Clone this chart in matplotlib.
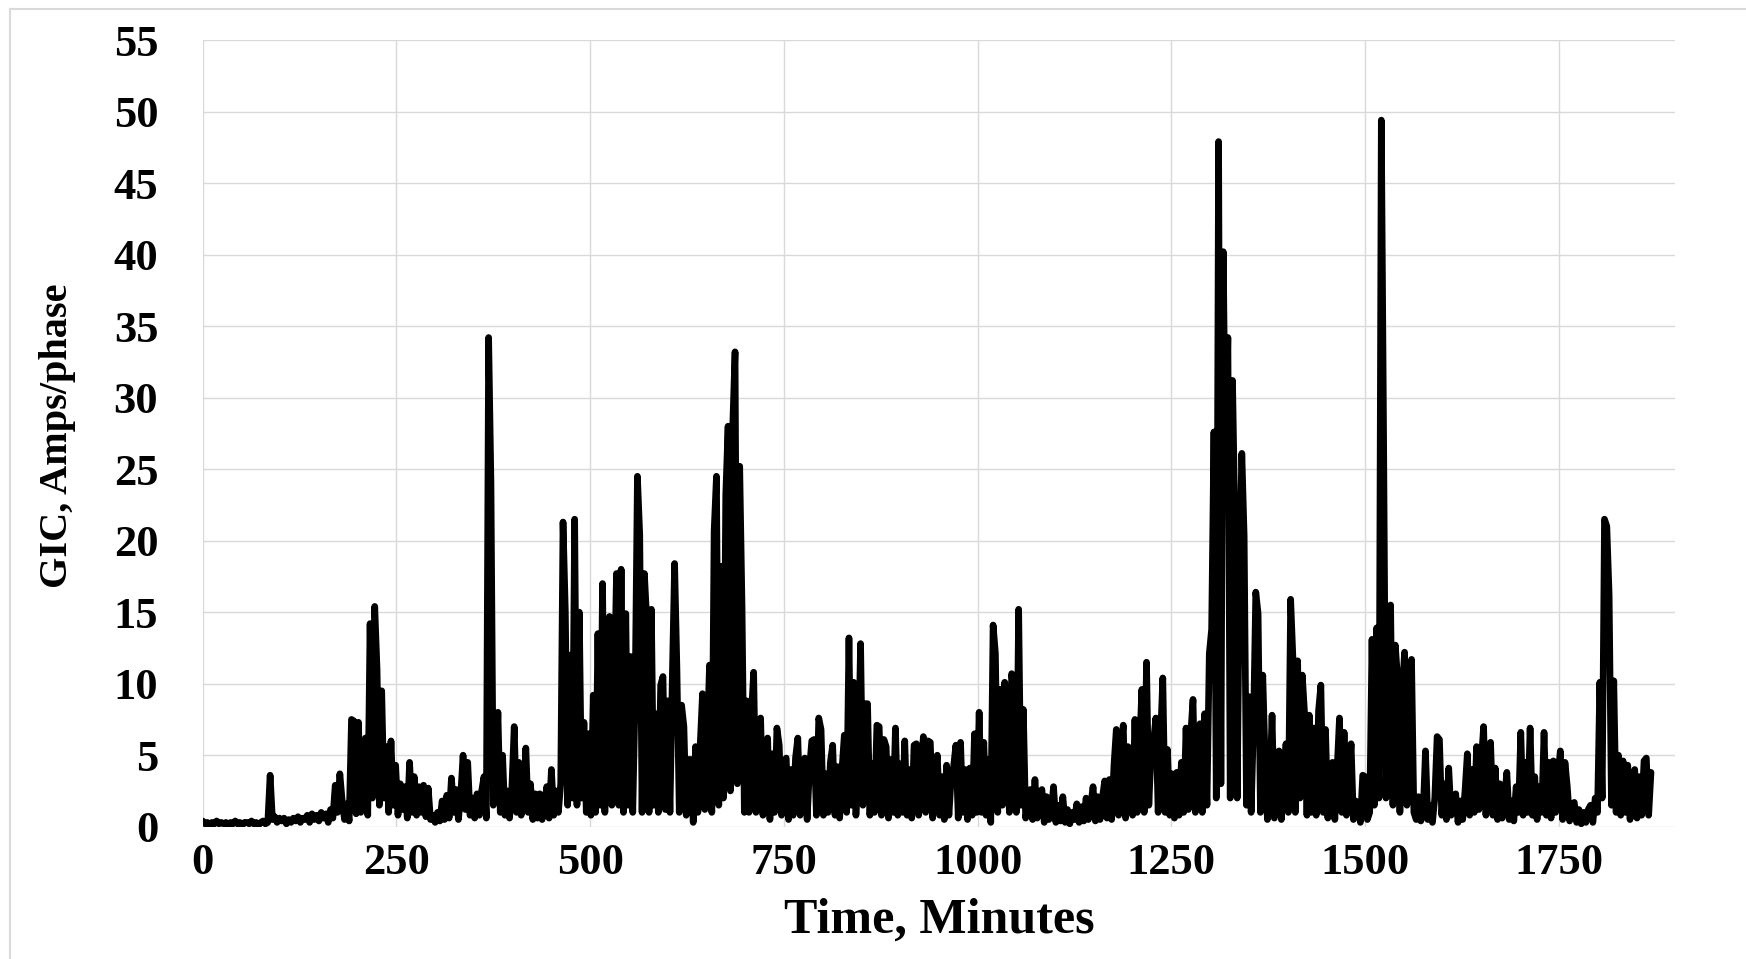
import numpy as np
import matplotlib
matplotlib.use("Agg")
import matplotlib.pyplot as plt
from matplotlib.lines import Line2D

minute_step = 3
gic_amps = [
    0.4, 0.2, 0.3, 0.1, 0.3, 0.2, 0.4, 0.2, 0.3, 0.2,        # 0
    0.3, 0.1, 0.3, 0.2, 0.4, 0.2, 0.3, 0.1, 0.3, 0.3,        # 30
    0.2, 0.4, 0.2, 0.3, 0.1, 0.3, 0.4, 0.2, 0.3, 3.6,        # 60
    0.5, 0.7, 0.3, 0.6, 0.4, 0.6, 0.2, 0.5, 0.3, 0.6,        # 90
    0.4, 0.7, 0.3, 0.6, 0.5, 0.8, 0.3, 0.9, 0.5, 0.8,        # 120
    0.4, 1.0, 0.6, 0.9, 0.3, 1.2, 0.6, 2.9, 1.0, 3.7,        # 150
    1.8, 0.5, 1.6, 0.4, 7.5, 7.4, 0.9, 7.3, 1.0, 3.5,        # 180
    6.2, 0.8, 14.2, 2.0, 15.4, 11.0, 1.5, 9.5, 2.0, 5.6,     # 210
    1.0, 6.0, 1.5, 4.3, 0.8, 3.0, 1.2, 2.8, 0.6, 4.5,        # 240
    1.0, 3.5, 0.8, 2.8, 1.0, 2.9, 0.7, 2.7, 0.5, 0.8,        # 270
    0.3, 1.0, 0.4, 1.8, 0.5, 2.2, 0.6, 3.4, 1.0, 2.6,        # 300
    0.5, 2.2, 5.0, 1.2, 4.5, 0.8, 2.0, 0.6, 2.3, 0.8,        # 330
    2.5, 3.5, 0.6, 34.2, 24.0, 1.5, 3.0, 8.0, 1.0, 5.0,      # 360
    0.8, 2.5, 0.6, 2.8, 7.0, 1.0, 4.5, 0.8, 2.0, 5.5,        # 390
    1.0, 3.0, 0.5, 2.3, 0.6, 2.3, 0.5, 1.5, 2.8, 0.6,        # 420
    4.0, 0.8, 2.5, 1.0, 3.0, 21.3, 15.0, 1.5, 12.0, 2.0,     # 450
    21.5, 1.5, 15.0, 2.0, 7.3, 1.0, 6.5, 0.8, 9.2, 1.0,      # 480
    13.5, 1.5, 17.0, 1.0, 10.3, 14.7, 1.5, 9.0, 17.7, 1.5,   # 510
    18.0, 1.0, 14.9, 1.5, 11.9, 1.0, 9.0, 24.5, 20.4, 1.0,   # 540
    17.7, 14.5, 1.0, 15.2, 1.5, 7.9, 1.0, 9.9, 10.5, 1.2,    # 570
    8.8, 1.0, 10.3, 18.4, 11.0, 1.0, 8.5, 7.0, 0.8, 4.7,     # 600
    4.7, 0.3, 5.6, 1.0, 5.7, 9.3, 1.2, 5.6, 11.3, 1.0,       # 630
    20.7, 24.5, 1.5, 18.2, 2.0, 23.2, 28.0, 2.5, 28.0, 33.2, # 660
    3.0, 25.2, 15.4, 1.0, 8.8, 1.0, 7.7, 10.8, 1.0, 6.5,     # 690
    7.6, 0.8, 5.3, 6.2, 0.5, 5.1, 1.0, 6.9, 5.7, 0.8,        # 720
    4.5, 4.8, 0.5, 4.0, 0.8, 4.8, 6.2, 0.8, 4.2, 4.8,        # 750
    0.5, 4.0, 6.0, 6.1, 0.8, 7.6, 6.8, 0.8, 3.7, 1.0,        # 780
    4.5, 5.7, 0.8, 4.2, 0.6, 4.0, 6.4, 1.0, 13.2, 1.5,       # 810
    10.1, 0.8, 4.5, 12.8, 1.5, 8.6, 8.6, 0.8, 4.4, 1.0,      # 840
    7.1, 7.0, 0.8, 6.1, 5.6, 0.6, 4.7, 1.0, 6.9, 0.8,        # 870
    4.4, 1.0, 6.0, 0.8, 4.0, 0.6, 5.7, 5.8, 0.8, 4.0,        # 900
    6.3, 1.0, 6.0, 5.9, 0.6, 3.5, 5.0, 0.8, 3.5, 0.5,        # 930
    4.3, 0.8, 3.5, 4.2, 5.7, 0.6, 5.9, 1.0, 4.0, 0.5,        # 960
    4.1, 0.8, 6.5, 1.0, 8.0, 1.0, 5.9, 0.8, 4.7, 0.3,        # 990
    14.1, 12.1, 1.0, 9.6, 1.5, 10.1, 6.5, 1.0, 10.7, 9.3,    # 1020
    1.0, 15.2, 1.5, 8.2, 0.6, 1.5, 2.6, 0.5, 3.3, 0.6,       # 1050
    2.0, 2.6, 0.3, 2.1, 0.5, 1.0, 2.8, 0.3, 1.5, 0.4,        # 1080
    2.1, 0.3, 1.2, 0.2, 1.0, 0.5, 1.6, 0.3, 1.4, 0.4,        # 1110
    2.0, 0.5, 1.5, 2.8, 0.4, 2.1, 0.5, 2.0, 3.2, 0.6,        # 1140
    3.3, 0.5, 4.3, 6.8, 0.8, 5.5, 7.1, 0.6, 5.6, 5.4,        # 1170
    0.8, 7.5, 1.0, 5.5, 9.6, 1.0, 11.5, 1.5, 5.4, 5.9,       # 1200
    7.6, 1.0, 6.0, 10.4, 1.0, 5.4, 0.8, 3.7, 0.6, 3.8,       # 1230
    0.8, 4.5, 1.0, 6.9, 1.2, 6.4, 8.9, 1.0, 5.0, 7.2,        # 1260
    1.0, 7.9, 1.5, 12.1, 13.8, 27.6, 2.0, 47.9, 3.0, 40.2,   # 1290
    25.0, 34.2, 2.0, 31.2, 21.3, 2.0, 18.0, 26.1, 20.3, 1.5, # 1320
    9.1, 1.0, 7.0, 16.4, 14.9, 1.0, 10.6, 4.8, 0.5, 2.5,     # 1350
    7.8, 0.6, 4.5, 5.3, 0.5, 3.0, 5.8, 1.0, 15.9, 11.7,      # 1380
    1.0, 11.6, 2.0, 10.6, 7.9, 0.8, 7.8, 1.0, 6.9, 0.8,      # 1410
    8.1, 9.9, 1.0, 6.8, 0.6, 2.5, 4.5, 0.5, 4.0, 7.6,        # 1440
    1.0, 6.6, 0.8, 3.0, 5.8, 0.5, 1.8, 1.5, 0.3, 3.6,        # 1470
    3.5, 0.5, 1.0, 13.1, 1.5, 13.9, 2.0, 49.4, 26.8, 2.0,    # 1500
    11.7, 15.5, 1.5, 12.7, 10.4, 1.0, 9.4, 12.2, 1.5, 9.4,   # 1530
    11.7, 1.0, 0.5, 2.1, 0.4, 1.0, 5.3, 0.5, 1.5, 0.3,       # 1560
    2.0, 6.3, 6.1, 0.8, 3.0, 0.5, 4.1, 0.8, 2.0, 2.3,        # 1590
    0.3, 1.8, 0.5, 2.5, 5.1, 0.8, 4.0, 1.0, 5.6, 1.2,        # 1620
    4.5, 7.0, 0.8, 4.1, 5.9, 0.8, 4.1, 0.5, 3.0, 0.6,        # 1650
    2.0, 3.8, 0.5, 1.8, 0.4, 2.8, 1.0, 6.6, 0.8, 4.5,        # 1680
    1.0, 6.9, 0.8, 3.5, 0.5, 2.8, 1.0, 6.6, 0.8, 4.5,        # 1710
    0.6, 4.6, 1.0, 3.5, 5.3, 0.5, 4.5, 2.8, 0.4, 1.5,        # 1740
    1.7, 0.3, 1.2, 0.2, 1.0, 0.3, 1.2, 1.5, 0.3, 2.0,        # 1770
    1.0, 10.1, 2.0, 21.5, 21.0, 16.2, 1.5, 10.2, 1.0, 5.0,   # 1800
    0.8, 4.6, 1.0, 4.3, 0.5, 3.1, 4.0, 0.6, 3.5, 0.8,        # 1830
    4.6, 4.8, 0.8, 3.8,                                      # 1860
]
minutes = np.arange(len(gic_amps)) * minute_step

x_ticks = [0, 250, 500, 750, 1000, 1250, 1500, 1750]
y_ticks = [0, 5, 10, 15, 20, 25, 30, 35, 40, 45, 50, 55]
x_label = "Time, Minutes"
y_label = "GIC, Amps/phase"

# ---- figure ----
W, H = 1746, 959
fig = plt.figure(figsize=(W / 100, H / 100), dpi=100)
ax = fig.add_axes([202.7 / W, 1 - 826.7 / H, (1675 - 202.7) / W, (826.7 - 40) / H])

grid_col = "#d9d9d9"
ax.plot(minutes, gic_amps, color="black", lw=4.8,
        solid_joinstyle="round", solid_capstyle="round", zorder=3)

ax.set_xlim(0, 1900)
ax.set_ylim(0, 55)
ax.set_xticks(x_ticks)
ax.set_yticks(y_ticks)
ax.grid(True, color=grid_col, lw=1.0, zorder=0)
ax.set_axisbelow(True)
for s in ax.spines.values():
    s.set_visible(False)

tick_font = dict(family="Liberation Serif", weight="bold", size=32)
ax.set_xticklabels([str(v) for v in x_ticks], fontdict=tick_font)
ax.set_yticklabels([str(v) for v in y_ticks], fontdict=tick_font)
ax.tick_params(axis="both", length=0)
ax.tick_params(axis="y", pad=32)
ax.tick_params(axis="x", pad=12)

fig.text(939 / W, 1 - 933 / H, x_label, ha="center", va="baseline",
         family="Liberation Serif", weight="bold", size=36)
fig.text(58 / W, 1 - 436 / H, y_label, ha="center", va="center", rotation=90,
         family="Liberation Serif", weight="bold", size=29)

# light border of the chart area
fig.add_artist(Line2D([10 / W, 1], [1 - 9 / H, 1 - 9 / H], transform=fig.transFigure,
                      color=grid_col, lw=1.5))
fig.add_artist(Line2D([10 / W, 10 / W], [0, 1 - 9 / H], transform=fig.transFigure,
                      color=grid_col, lw=1.5))

fig.savefig("out.png", dpi=100, facecolor="white")
